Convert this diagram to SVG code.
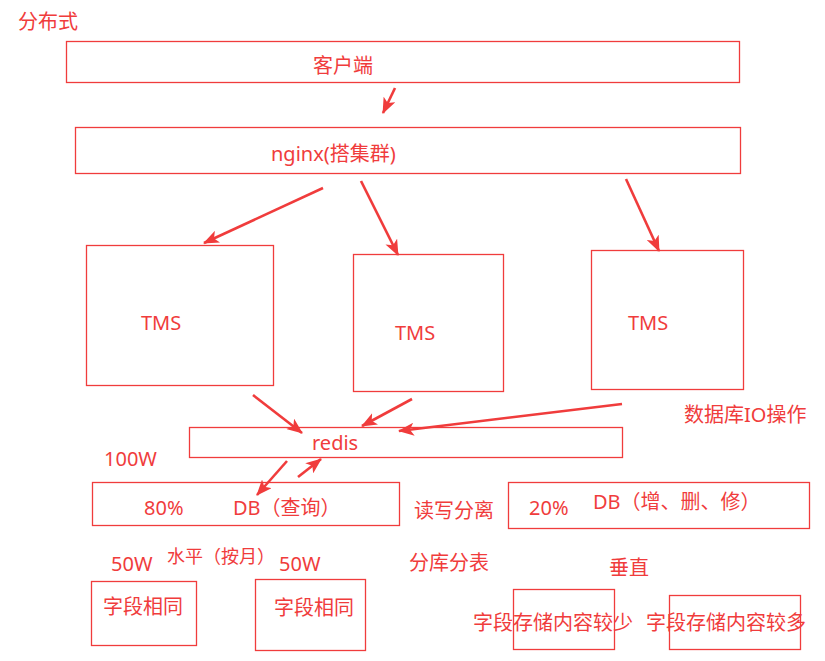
<svg xmlns="http://www.w3.org/2000/svg" width="825" height="661" viewBox="0 0 825 661">
<defs>
<style>
.b{fill:none;stroke:#f03c3c;stroke-width:1.3}
.t{fill:#f03c3c;font-family:"Noto Sans","Noto Sans CJK SC",sans-serif;font-size:20px;dominant-baseline:central}
.a{stroke:#f03c3c;stroke-width:2.6;fill:none;marker-end:url(#ah)}
</style>
<marker id="ah" viewBox="0 0 16 13" refX="15" refY="6.5" markerWidth="16" markerHeight="13" markerUnits="userSpaceOnUse" orient="auto">
<path d="M0,0 L16,6.5 L0,13 L4,6.5 Z" fill="#f03c3c"/>
</marker>
</defs>
<rect width="825" height="661" fill="#fff"/>
<text class="t" x="18" y="21">分布式</text>
<g id="client"><rect class="b" x="66.5" y="41.5" width="673" height="41"/><text class="t" x="313" y="65">客户端</text></g>
<g id="nginx"><rect class="b" x="75.5" y="127.5" width="665" height="46"/><text class="t" x="271" y="153">nginx(搭集群)</text></g>
<g id="tms1"><rect class="b" x="86.5" y="245.5" width="187" height="140"/><text class="t" x="141" y="322">TMS</text></g>
<g id="tms2"><rect class="b" x="353.5" y="254.5" width="150" height="137"/><text class="t" x="395" y="332">TMS</text></g>
<g id="tms3"><rect class="b" x="591.5" y="250.5" width="152" height="139"/><text class="t" x="628" y="322">TMS</text></g>
<text class="t" x="684" y="414">数据库IO操作</text>
<g id="redis"><rect class="b" x="189.5" y="427.5" width="433" height="30"/><text class="t" x="312" y="442">redis</text></g>
<text class="t" x="104" y="458">100W</text>
<g id="db-read"><rect class="b" x="92.5" y="482.5" width="307" height="43"/><text class="t" x="144" y="507">80%</text><text class="t" x="233" y="507">DB（查询）</text></g>
<text class="t" x="414" y="510">读写分离</text>
<g id="db-write"><rect class="b" x="508.5" y="482.5" width="301" height="46"/><text class="t" x="529" y="507">20%</text><text class="t" x="593" y="501">DB（增、删、修）</text></g>
<text class="t" x="111" y="563">50W</text>
<text class="t" x="167" y="556" style="font-size:18px">水平（按月）</text>
<text class="t" x="279" y="563">50W</text>
<text class="t" x="409" y="562">分库分表</text>
<text class="t" x="609" y="567">垂直</text>
<g id="h1"><rect class="b" x="91.5" y="581.5" width="105" height="64"/><text class="t" x="103" y="606">字段相同</text></g>
<g id="h2"><rect class="b" x="255.5" y="579.5" width="110" height="71"/><text class="t" x="274" y="607">字段相同</text></g>
<g id="v1"><rect class="b" x="513.5" y="589.5" width="101" height="60"/><text class="t" x="473" y="622">字段存储内容较少</text></g>
<g id="v2"><rect class="b" x="669.5" y="595.5" width="131" height="54"/><text class="t" x="646" y="622">字段存储内容较多</text></g>
<g id="connectors">
<line class="a" x1="395" y1="88" x2="383" y2="113"/>
<line class="a" x1="323" y1="188" x2="204" y2="243"/>
<line class="a" x1="361" y1="181" x2="398" y2="255"/>
<line class="a" x1="626" y1="179" x2="659" y2="251"/>
<line class="a" x1="253" y1="395" x2="302" y2="433"/>
<line class="a" x1="412" y1="399" x2="362" y2="426"/>
<line class="a" x1="622" y1="404" x2="399" y2="431"/>
<line class="a" x1="287" y1="461" x2="257" y2="495"/>
<line class="a" x1="298" y1="477" x2="321" y2="459"/>
</g>
</svg>
